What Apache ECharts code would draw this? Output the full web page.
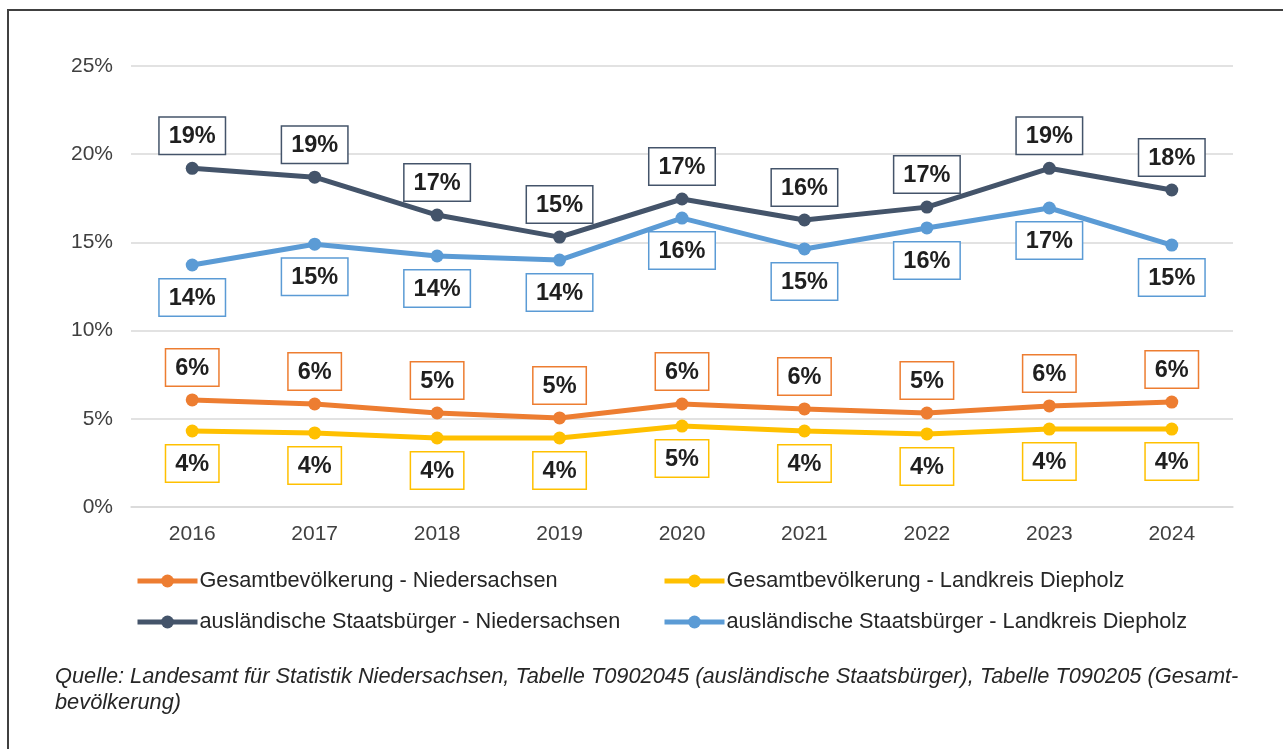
<!DOCTYPE html>
<html>
<head>
<meta charset="utf-8">
<script src="https://cdn.jsdelivr.net/npm/echarts@6/dist/echarts.min.js"></script>
<style>
  html, body { margin: 0; padding: 0; background: #fff; overflow: hidden; }
  #frame {
    position: absolute; left: 7px; top: 9px; width: 1300px; height: 780px;
    border: 2px solid #404040; box-sizing: border-box;
  }
  #chart { position: absolute; left: 0; top: 0; width: 1283px; height: 749px; }
</style>
</head>
<body>
<div id="frame"></div>
<div id="chart"></div>
<script>
// Jahre und Anteile in Prozent
const years = ['2016', '2017', '2018', '2019', '2020', '2021', '2022', '2023', '2024'];

const gesamtNds = [6.07, 5.84, 5.33, 5.05, 5.84, 5.56, 5.33, 5.73, 5.95];
const gesamtDh = [4.31, 4.2, 3.91, 3.91, 4.59, 4.31, 4.14, 4.42, 4.42];
const auslNds = [19.2, 18.7, 16.55, 15.3, 17.46, 16.27, 17.0, 19.2, 17.97];
const auslDh = [13.72, 14.9, 14.23, 14.0, 16.38, 14.63, 15.82, 16.95, 14.85];

const names = [
    'Gesamtbevölkerung - Niedersachsen',
    'Gesamtbevölkerung - Landkreis Diepholz',
    'ausländische Staatsbürger - Niedersachsen',
    'ausländische Staatsbürger - Landkreis Diepholz'
];

const fontFamily = '"Liberation Sans", Arial, sans-serif';

function makeSeries(name, data, color, pos) {
    return {
        name: name,
        type: 'line',
        data: data,
        symbol: 'circle',
        symbolSize: 13,
        lineStyle: { width: 5, color: color },
        itemStyle: { color: color },
        label: {
            show: true,
            position: pos,
            distance: 8,
            formatter: function (p) { return Math.round(p.value) + '%'; },
            fontFamily: fontFamily,
            fontSize: 23.5,
            fontWeight: 'bold',
            color: '#1f1f1f',
            backgroundColor: '#fff',
            borderColor: color,
            borderWidth: 1.5,
            padding: [7, 9, 5, 9]
        },
        emphasis: { disabled: true }
    };
}

const chart = echarts.init(document.getElementById('chart'));

const legendBase = {
    orient: 'vertical',
    top: 570,
    padding: 0,
    itemWidth: 60,
    itemHeight: 16,
    itemGap: 19,
    lineStyle: { width: 5 },
    textStyle: { fontSize: 21.7, lineHeight: 22, color: '#262626', fontFamily: fontFamily, padding: [0, 0, 0, -3] }
};

const option = {
    animation: false,
    textStyle: { fontFamily: fontFamily },
    grid: { left: 131, right: 50, top: 66, bottom: 242 },
    xAxis: {
        type: 'category',
        data: years,
        axisTick: { show: false },
        axisLine: { lineStyle: { color: '#d9d9d9', width: 1.5 } },
        axisLabel: { color: '#404040', fontSize: 21, margin: 17, fontFamily: fontFamily }
    },
    yAxis: {
        type: 'value',
        min: 0,
        max: 25,
        interval: 5,
        axisLine: { show: false },
        axisTick: { show: false },
        splitLine: { lineStyle: { color: '#d9d9d9', width: 1.5 } },
        axisLabel: { formatter: '{value}%', color: '#404040', fontSize: 21, margin: 18, fontFamily: fontFamily }
    },
    legend: [
        Object.assign({}, legendBase, { left: 135, data: [names[0], names[2]] }),
        Object.assign({}, legendBase, { left: 662, data: [names[1], names[3]] })
    ],
    graphic: [
        {
            type: 'text',
            left: 55,
            top: 664,
            style: {
                text: 'Quelle: Landesamt für Statistik Niedersachsen, Tabelle T0902045 (ausländische Staatsbürger), Tabelle T090205 (Gesamt-\nbevölkerung)',
                font: 'italic 21.8px "Liberation Sans", Arial, sans-serif',
                fill: '#262626',
                lineHeight: 26
            }
        }
    ],
    series: [
        makeSeries(names[0], gesamtNds, '#ED7D31', 'top'),
        makeSeries(names[1], gesamtDh, '#FFC000', 'bottom'),
        makeSeries(names[2], auslNds, '#44546A', 'top'),
        makeSeries(names[3], auslDh, '#5B9BD5', 'bottom')
    ]
};

chart.setOption(option);
</script>
</body>
</html>
